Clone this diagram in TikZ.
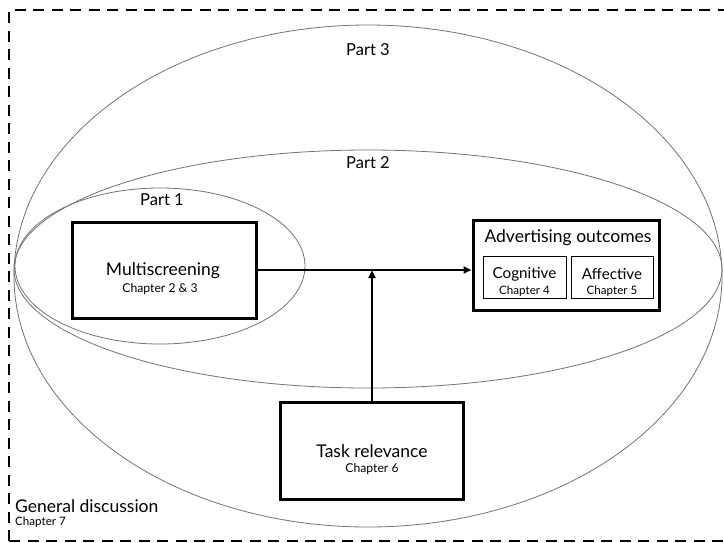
\documentclass[tikz,border=0pt]{standalone}
\usepackage{fontspec}
\setmainfont{Lato}
\usetikzlibrary{arrows.meta}
\tikzset{
  part/.style={draw=black!55, line width=0.8pt},
  bigbox/.style={draw=black, line width=3pt, fill=white, inner sep=0pt},
  smallbox/.style={draw=black, line width=0.9pt, inner sep=0pt},
  maintxt/.style={font=\fontsize{17.5}{20}\selectfont, inner sep=0pt},
  subtxt/.style={font=\fontsize{15.2}{18}\selectfont, inner sep=0pt},
  chaptxt/.style={font=\fontsize{12.2}{14}\selectfont, inner sep=0pt},
  smallchap/.style={font=\fontsize{11.6}{14}\selectfont, inner sep=0pt},
  parttxt/.style={font=\fontsize{16.5}{19}\selectfont, inner sep=0pt},
  arr/.style={line width=2.2pt, -{Triangle[length=8pt,width=7pt]}},
  border/.style={line width=2.7pt, dash pattern=on 11pt off 7.5pt},
}
\begin{document}
\begin{tikzpicture}[x=1pt,y=-1pt]
\useasboundingbox (0,0) rectangle (724,542);
\clip (0,0) rectangle (724,542);
\fill[white] (0,0) rectangle (724,542);
% dashed frame
\draw[border] (9,541) -- (9,10) -- (740,10);
\draw[border] (9,541) -- (740,541);
% parts
\draw[part] (368,276) ellipse [x radius=354pt, y radius=251pt];
\draw[part] (368,269) ellipse [x radius=354pt, y radius=119pt];
\draw[part] (160,266) ellipse [x radius=145pt, y radius=78pt];
\node[parttxt] (p3) at (368,50) {Part 3};
\node[parttxt] (p2) at (368,163) {Part 2};
\node[parttxt] (p1) at (162,200) {Part 1};
% boxes
\node[bigbox, minimum width=184pt, minimum height=96pt] (multi) at (164,270) {};
\node[maintxt] (multit) at (163,271) {Multiscreening};
\node[chaptxt] (multic) at (160,289) {Chapter 2 \& 3};

\node[bigbox, minimum width=186pt, minimum height=90pt] (adv) at (566,265) {};
\node[maintxt] (advt) at (568,238) {Advertising outcomes};
\node[smallbox, minimum width=83pt, minimum height=42pt] (cog) at (524.5,277) {};
\node[smallbox, minimum width=82pt, minimum height=42pt] (aff) at (612,277) {};
\node[subtxt] (cogt) at (524.5,274) {Cognitive};
\node[smallchap] (cogc) at (524.5,291) {Chapter 4};
\node[subtxt] (afft) at (612,274) {Affective};
\node[smallchap] (affc) at (612,291) {Chapter 5};

\node[bigbox, minimum width=183pt, minimum height=97pt] (task) at (372,450.5) {};
\node[maintxt] (taskt) at (372,451) {Task relevance};
\node[chaptxt] (taskc) at (372,469) {Chapter 6};

\node[maintxt, anchor=west] (gen) at (15,506) {General discussion};
\node[smallchap, anchor=west] (genc) at (15,522) {Chapter 7};
% arrows
\draw[arr] (multi.east) -- (multi.east -| adv.west);
\draw[arr] (task.north) -- (task.north |- multi.east);
\end{tikzpicture}
\end{document}
